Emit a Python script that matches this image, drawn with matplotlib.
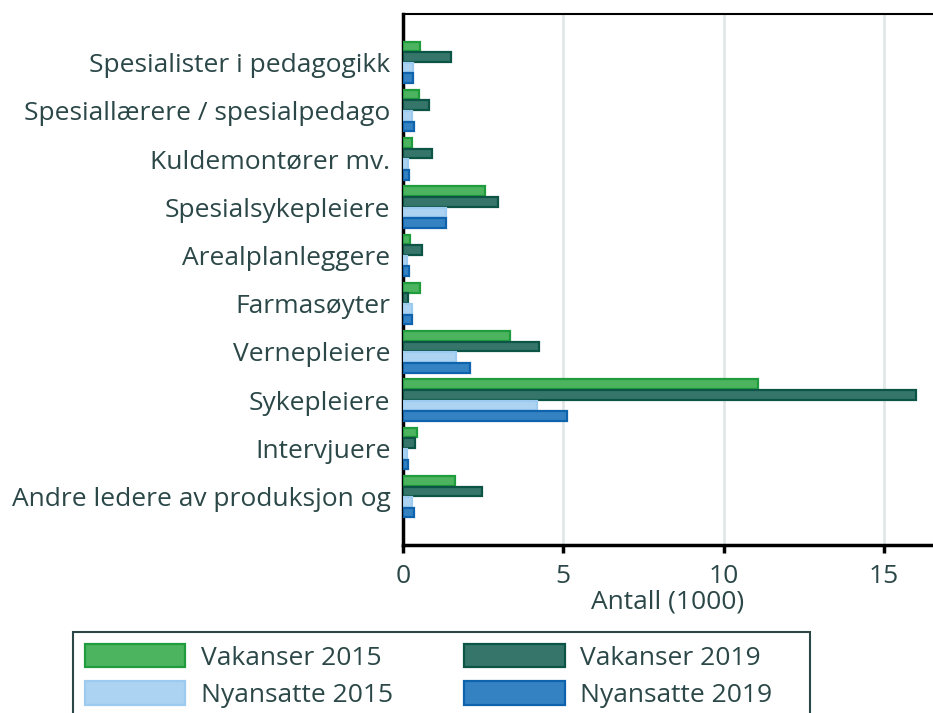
import numpy as np
import matplotlib.pyplot as plt
from matplotlib.patches import Rectangle

plt.rcParams['font.family'] = ['Open Sans', 'DejaVu Sans']

categories = ['Spesialister i pedagogikk', 'Spesiallærere / spesialpedago',
              'Kuldemontører mv.', 'Spesialsykepleiere', 'Arealplanleggere',
              'Farmasøyter', 'Vernepleiere', 'Sykepleiere', 'Intervjuere',
              'Andre ledere av produksjon og']
vakanser_2015 = [0.53, 0.50, 0.27, 2.56, 0.22, 0.52, 3.35, 11.08, 0.43, 1.61]
vakanser_2019 = [1.49, 0.80, 0.90, 2.95, 0.58, 0.15, 4.23, 16.00, 0.36, 2.45]
nyansatte_2015 = [0.32, 0.27, 0.15, 1.33, 0.12, 0.27, 1.64, 4.17, 0.12, 0.28]
nyansatte_2019 = [0.30, 0.34, 0.19, 1.33, 0.18, 0.27, 2.10, 5.13, 0.15, 0.33]

series = [
    ('Vakanser 2015', vakanser_2015, '#4cb35f', '#1f9c3c'),
    ('Vakanser 2019', vakanser_2019, '#36766a', '#0b5446'),
    ('Nyansatte 2015', nyansatte_2015, '#acd3f1', '#9dcbef'),
    ('Nyansatte 2019', nyansatte_2019, '#3482c2', '#0f63ad'),
]
text_col = '#2b4747'
fs = 19

fig = plt.figure(figsize=(9.33, 7.13), dpi=100)
ax = fig.add_axes([403 / 933, 1 - 545 / 713, 529 / 933, 531 / 713])

y = np.arange(len(categories))
step = 0.22
bars = []
for i, (name, vals, fc, ec) in enumerate(series):
    b = ax.barh(y + (i - 1.5) * step, vals, height=0.2, color=fc, edgecolor=ec,
                linewidth=1.6, label=name, zorder=3)
    bars.append(b)

ax.set_ylim(len(categories), -1)
ax.set_xlim(0, 16.5)
ax.set_yticks(y)
ax.set_yticklabels(categories, fontsize=fs, color=text_col)
ax.tick_params(axis='y', length=0, pad=9)
ax.set_xticks([0, 5, 10, 15])
ax.tick_params(axis='x', labelsize=fs, labelcolor=text_col, color='black',
               width=2.5, length=6, pad=8)
ax.set_xlabel('Antall (1000)', fontsize=fs, color=text_col, labelpad=0)
ax.grid(axis='x', color='#e1e8e8', linewidth=2, zorder=0)
for s in ['top', 'left', 'bottom']:
    ax.spines[s].set_color('black')
ax.spines['top'].set_linewidth(1.5)
ax.spines['left'].set_linewidth(2.5)
ax.spines['bottom'].set_linewidth(2.5)
ax.spines['right'].set_visible(False)

# legend is filled column-wise, so reorder to get rows: V2015 V2019 / N2015 N2019
order = [0, 2, 1, 3]
leg = fig.legend([bars[k] for k in order], [series[k][0] for k in order],
                 loc='upper left', bbox_to_anchor=(73 / 933, 1 - 632 / 713),
                 ncol=2, fontsize=fs, frameon=False,
                 handlelength=3.8, handleheight=1.0,
                 handletextpad=0.6, columnspacing=2.7, borderaxespad=0,
                 labelspacing=0.4, borderpad=0.45)
for t in leg.get_texts():
    t.set_color(text_col)
# legend box is wider than its content and runs off the bottom edge
fig.patches.append(Rectangle((73 / 933, -0.05), 737 / 933, 0.05 + 81 / 713,
                             transform=fig.transFigure, fill=False,
                             edgecolor=text_col, linewidth=1.5))

fig.savefig('out.png', dpi=100)
